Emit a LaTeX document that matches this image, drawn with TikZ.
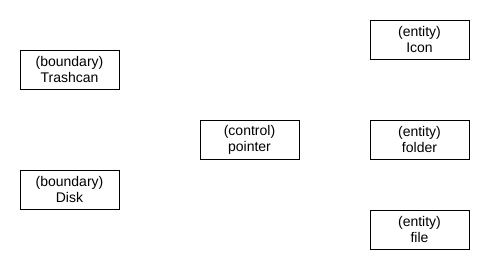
\documentclass[tikz,border=0pt]{standalone}
\usepackage{fontspec}
\setmainfont{Liberation Sans}
\usetikzlibrary{positioning}

\begin{document}
\begin{tikzpicture} [
					x=1pt,y=-1pt,
					every node/.style={font=\fontsize{14}{16}\selectfont,align=center},
					classbox/.style={draw,thin,minimum width=99pt,minimum height=39pt,inner sep=0,
						execute at begin node={\rule{0pt}{13pt}}},
				]
				\useasboundingbox (0,0) rectangle (490,270);
				
				\node[classbox] (trashcan) at (69.5,69.5) {(boundary)\\Trashcan};
				\node[classbox] (disk) at (69.5,189.5) {(boundary)\\Disk};
				\node[classbox] (pointer) at (249.5,139.5) {(control)\\pointer};
				\node[classbox] (icon) at (419.5,39.5) {(entity)\\Icon};
				\node[classbox] (folder) at (419.5,139.5) {(entity)\\folder};
				\node[classbox] (file) at (419.5,229.5) {(entity)\\file};
				
			\end{tikzpicture}
\end{document}
